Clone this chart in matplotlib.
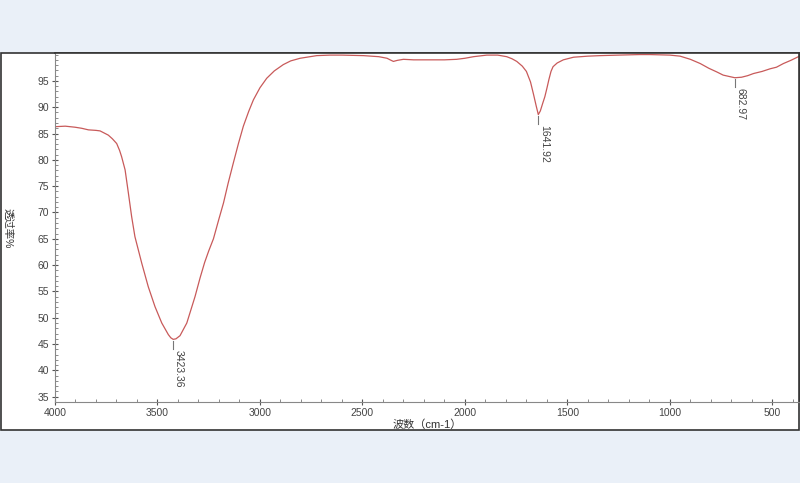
import matplotlib.pyplot as plt
from matplotlib.patches import Rectangle
from matplotlib.ticker import MultipleLocator

plt.rcParams['font.family'] = ['Liberation Sans', 'Noto Sans CJK SC', 'DejaVu Sans']

# IR spectrum: wavenumber (cm-1) and transmittance (%)
wavenumber = [4000, 3950, 3902, 3870, 3837, 3800, 3780, 3760, 3740, 3720, 3699, 3685,
              3675, 3658, 3642, 3626, 3610, 3577, 3545, 3512, 3479, 3447, 3435, 3423.36,
              3410, 3390, 3357, 3317, 3292, 3270, 3250, 3227, 3200, 3178, 3155, 3130,
              3105, 3081, 3055, 3032, 3000, 2967, 2930, 2886, 2850, 2804, 2723, 2658,
              2600, 2495, 2420, 2380, 2365, 2349, 2330, 2300, 2250, 2170, 2100, 2040,
              2000, 1958, 1893, 1840, 1796, 1770, 1747, 1720, 1700, 1680, 1665,
              1652, 1641.92, 1632, 1620, 1610, 1600, 1590, 1580, 1570, 1550, 1520, 1470,
              1400, 1340, 1250, 1150, 1096, 1000, 950, 900, 852, 810, 771, 740, 706,
              682.97, 650, 620, 592, 550, 511, 480, 446, 410, 373]
transmittance = [86.3, 86.4, 86.2, 86.0, 85.7, 85.6, 85.5, 85.1, 84.7, 84.0, 83.1, 81.8,
                 80.6, 78.1, 73.7, 69.2, 65.4, 60.4, 55.9, 52.1, 49.0, 46.8, 46.2, 45.9,
                 46.0, 46.6, 49.0, 54.0, 57.6, 60.5, 62.7, 65.0, 68.8, 71.8, 75.6, 79.4,
                 83.1, 86.4, 89.2, 91.4, 93.7, 95.5, 96.9, 98.1, 98.8, 99.3, 99.8, 99.9,
                 99.9, 99.8, 99.6, 99.3, 99.0, 98.7, 98.9, 99.1, 99.0, 99.0, 99.0, 99.1,
                 99.3, 99.6, 99.9, 99.9, 99.6, 99.2, 98.7, 97.8, 96.8, 94.8, 92.4,
                 90.2, 88.6, 89.3, 90.8, 92.0, 93.6, 95.3, 96.8, 97.7, 98.4, 99.0, 99.5,
                 99.7, 99.8, 99.9, 100.0, 100.0, 99.9, 99.7, 99.1, 98.3, 97.4, 96.7, 96.1,
                 95.8, 95.6, 95.7, 96.0, 96.4, 96.8, 97.3, 97.6, 98.3, 98.9, 99.6]

peak_wn = [3423.36, 1641.92, 682.97]
peak_t = [45.9, 88.6, 95.6]
peak_labels = ['3423.36', '1641.92', '682.97']

fig = plt.figure(figsize=(8, 4.83), dpi=100)
fig.patch.set_facecolor('#eaf0f8')

# white panel with dark border (behind the axes)
panel = Rectangle((0.001, (483 - 430) / 483), 0.998, 377 / 483, transform=fig.transFigure,
                  facecolor='white', edgecolor='#333333', linewidth=1.2, zorder=-10)
fig.patches.append(panel)

ax = fig.add_axes([55 / 800, 81 / 483, 744 / 800, 349 / 483])
ax.set_zorder(5)
ax.set_facecolor('white')
ax.plot(wavenumber, transmittance, color='#c85a5a', linewidth=0.9)

ax.set_xlim(4000, 370)
ax.set_ylim(34, 100.3)

ax.xaxis.set_major_locator(MultipleLocator(500))
ax.xaxis.set_minor_locator(MultipleLocator(100))
ax.yaxis.set_major_locator(MultipleLocator(5))
ax.yaxis.set_minor_locator(MultipleLocator(1))
ax.set_yticks(range(35, 100, 5))

ax.tick_params(which='major', direction='inout', length=5, width=0.8, color='#555555',
               labelsize=7.5, labelcolor='#444444', pad=2)
ax.tick_params(which='minor', direction='in', length=2, width=0.6, color='#777777')
ax.tick_params(top=False, right=False, which='both')

for side in ['left', 'bottom']:
    ax.spines[side].set_color('#888888')
    ax.spines[side].set_linewidth(0.8)
ax.spines['top'].set_color('#333333')
ax.spines['top'].set_linewidth(1.2)
ax.spines['right'].set_color('#333333')
ax.spines['right'].set_linewidth(1.2)

# peak markers
for wn, t, lab in zip(peak_wn, peak_t, peak_labels):
    ax.plot([wn, wn], [t - 0.3, t - 1.8], color='#777777', linewidth=0.8)
    ax.annotate(lab, xy=(wn, t - 1.8), xytext=(0.5, -0.5), textcoords='offset points',
                rotation=270, ha='left', va='top', fontsize=7.5, color='#444444')

ax.set_xlabel('波数（cm-1）', fontsize=8, color='#333333', labelpad=1)
fig.text(8 / 800, 1 - 228 / 483, '透过率%', rotation=270, ha='center', va='center',
         fontsize=7.5, color='#333333')

fig.savefig('out.png', dpi=100, facecolor=fig.get_facecolor())
